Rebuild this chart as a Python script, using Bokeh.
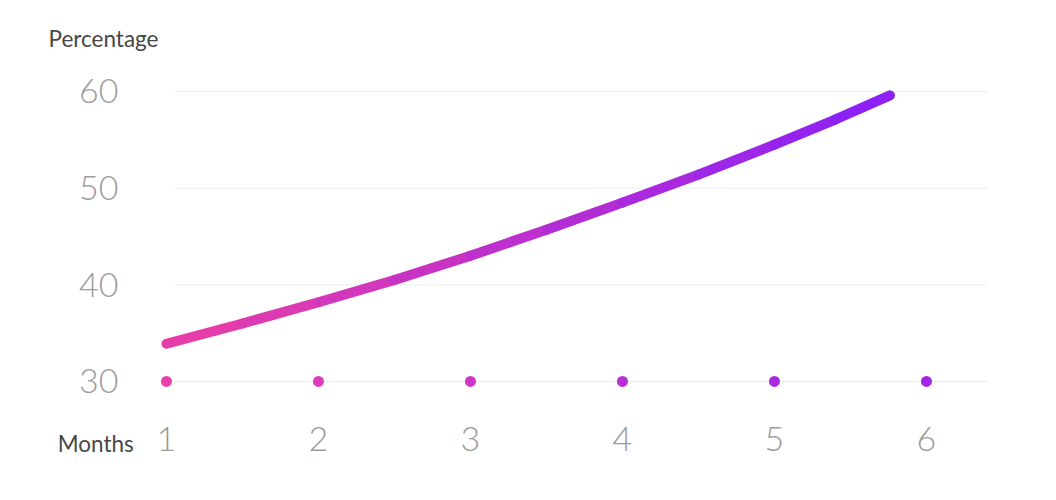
from bokeh.plotting import figure
from bokeh.models import FixedTicker, ColumnDataSource, Range1d
from bokeh.embed import file_html
from bokeh.resources import INLINE

# ---- data ----
month_ticks = [1, 2, 3, 4, 5, 6]
pct_ticks = [30, 40, 50, 60]
curve_months = [1.0, 1.5, 2.0, 2.5, 3.0, 3.5, 4.0, 4.5, 5.0, 5.4, 5.76]
curve_pct = [33.9, 36.0, 38.2, 40.5, 43.0, 45.7, 48.5, 51.4, 54.5, 57.1, 59.6]
dot_colors = ["#E83FAE", "#DE3CB8", "#CD36C6", "#B82FD4", "#A82ADF", "#A026E3"]
y_title = "Percentage"
x_title = "Months"

FONT = "Lato Light"
START = (236, 63, 166)
END = (137, 31, 248)

W, H = 1040, 484
p = figure(width=W, height=H, output_backend="svg", toolbar_location=None,
           x_range=Range1d(0.895, 6.487), y_range=Range1d(28.03, 62.17),
           min_border_left=150, min_border_right=40, min_border_top=70,
           min_border_bottom=84, title=y_title)
p.outline_line_color = None
p.xgrid.visible = False
p.ygrid.visible = False
p.background_fill_color = "white"
p.border_fill_color = "white"

p.title.align = "left"
p.title.offset = -102
p.title.standoff = 37
p.title.text_font = "Lato"
p.title.text_font_style = "normal"
p.title.text_font_size = "22.5px"
p.title.text_color = "#474747"

# gridlines
gx0, gx1 = 1.05, 6.40
p.segment(x0=[gx0] * len(pct_ticks), x1=[gx1] * len(pct_ticks), y0=pct_ticks, y1=pct_ticks,
          line_color="#ededed", line_width=1)

# gradient curve (one segment per pair of read points)
def mix(t):
    r = [round(a + (b - a) * t) for a, b in zip(START, END)]
    return "#%02x%02x%02x" % tuple(r)

xmin, xmax = curve_months[0], curve_months[-1]
seg_colors = [mix(((curve_months[i] + curve_months[i + 1]) / 2 - xmin) / (xmax - xmin))
              for i in range(len(curve_months) - 1)]
src = ColumnDataSource(dict(x0=curve_months[:-1], x1=curve_months[1:],
                            y0=curve_pct[:-1], y1=curve_pct[1:], c=seg_colors))
p.segment(x0="x0", y0="y0", x1="x1", y1="y1", line_color="c", source=src,
          line_width=10, line_cap="round")

# dots on the baseline
p.scatter(x=month_ticks, y=[pct_ticks[0]] * len(month_ticks), size=11,
          fill_color=dot_colors, line_color=None)

for ax in (p.xaxis[0], p.yaxis[0]):
    ax.axis_line_color = None
    ax.major_tick_line_color = None
    ax.minor_tick_line_color = None
    ax.major_tick_out = 0
    ax.major_tick_in = 0
    ax.major_label_text_font = FONT
    ax.major_label_text_font_size = "34px"
    ax.major_label_text_color = "#9b9b9b"

p.xaxis[0].ticker = FixedTicker(ticks=month_ticks)
p.yaxis[0].ticker = FixedTicker(ticks=pct_ticks)
p.xaxis[0].major_label_standoff = 26
p.yaxis[0].major_label_standoff = 32

xa = p.xaxis[0]
xa.axis_label = x_title + "\u00a0" * 19   # pad so the centred label sits left of the axis start
xa.axis_label_align = "start"
xa.axis_label_standoff = -24
xa.axis_label_text_font = "Lato"
xa.axis_label_text_font_style = "normal"
xa.axis_label_text_font_size = "22.5px"
xa.axis_label_text_color = "#474747"

open("out.html", "w").write(file_html(p, INLINE))
